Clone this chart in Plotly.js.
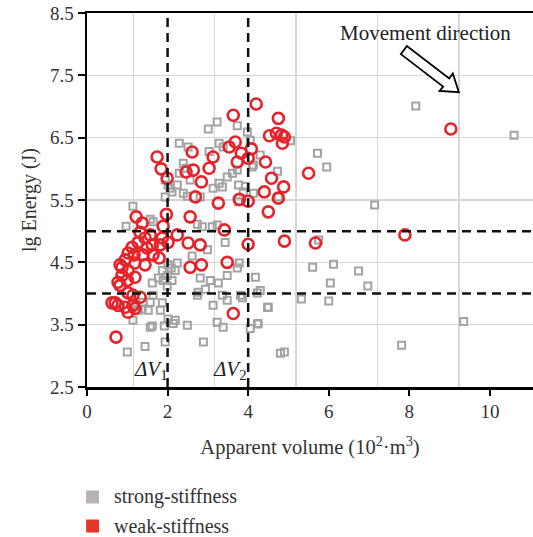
<!DOCTYPE html>
<html>
<head>
<meta charset="utf-8">
<script src="https://cdn.plot.ly/plotly-3.0.1.min.js"></script>
<style>html,body{margin:0;padding:0;background:#fff;}#chart{width:533px;height:537px;}</style>
</head>
<body>
<div id="chart"></div>
<script>
// strong-stiffness (grey open squares)
const strongX = [3.23,3.01,3.73,3.98,2.29,2.51,3.03,3.28,3.38,2.39,2.46,2.29,1.94,2.06,1.94,2.24,2.56,3.48,3.28,3.13,3.73,3.93,3.88,4.13,4.13,2.49,2.81,1.14,1.57,0.97,2.74,3.23,3.43,4.05,2.01,2.11,3.36,3.61,3.76,3.76,2.39,4.30,2.86,3.11,2.99,2.61,2.81,3.06,3.26,3.73,3.48,2.74,3.36,3.81,4.23,3.13,1.57,1.87,1.82,2.49,3.23,3.38,4.05,4.25,1.57,1.94,2.89,2.24,1.62,1.99,1.64,1.39,1.37,2.94,2.76,3.78,4.18,4.30,4.50,3.86,3.48,2.14,1.14,1.44,1.00,2.01,1.19,1.27,1.52,2.19,1.62,1.92,8.16,10.60,5.05,5.72,5.95,4.73,7.14,4.75,5.75,5.60,6.12,6.74,6.04,6.97,5.32,6.00,4.48,4.23,9.35,7.81,4.80,4.90,4.10,1.87,1.99,2.09,1.89,1.77,2.11,2.19,2.01,1.64];
const strongY = [6.75,6.64,6.69,6.59,6.41,6.35,6.28,6.41,6.35,6.09,6.01,5.93,5.82,5.69,5.55,5.74,5.82,5.87,5.77,5.69,5.98,5.72,5.63,6.06,5.61,5.56,5.55,5.40,5.19,5.08,5.11,5.10,4.82,6.46,5.74,5.63,5.71,5.93,5.74,5.47,5.61,6.22,5.07,5.07,4.70,4.60,4.25,4.21,4.17,4.41,4.29,3.97,3.97,3.97,4.01,3.81,3.86,3.85,3.73,3.49,3.54,3.46,3.44,3.52,3.46,3.22,3.22,4.49,4.17,4.12,3.97,3.86,3.75,4.07,4.02,4.49,4.26,4.05,3.78,3.93,3.89,3.52,3.57,3.15,3.06,3.59,3.85,3.73,3.73,3.57,3.48,3.48,7.01,6.54,6.45,6.25,6.03,5.96,5.42,5.55,4.86,4.42,4.47,4.36,4.17,4.12,3.91,3.88,3.78,3.51,3.55,3.17,3.04,3.06,6.03,4.37,4.29,4.41,4.21,4.25,4.21,4.37,4.46,5.15];

// weak-stiffness (red open circles)
const weakX = [4.20,9.03,4.75,4.53,4.70,4.83,4.90,4.85,4.43,5.50,4.58,4.40,4.88,4.75,4.50,7.89,4.90,5.67,3.63,3.68,3.53,4.08,3.83,2.61,1.74,3.13,3.73,4.00,1.84,2.64,2.46,3.03,1.99,2.84,2.69,3.26,3.78,4.00,1.22,1.97,1.37,2.56,3.41,4.00,1.89,2.24,2.51,2.81,2.01,1.82,1.62,3.48,2.56,2.84,1.79,0.82,0.70,1.02,1.19,3.63,0.72,1.44,1.27,1.12,1.02,1.17,1.39,1.49,1.64,1.44,1.19,0.95,0.87,1.02,0.87,0.77,0.82,1.00,1.19,1.14,0.62,0.77,0.95,1.14,1.32,1.02,1.87,1.57,1.32];
const weakY = [7.04,6.64,6.81,6.53,6.57,6.54,6.51,6.41,6.11,5.93,5.85,5.63,5.71,5.53,5.31,4.94,4.84,4.81,6.86,6.43,6.35,6.32,6.25,6.27,6.19,6.19,6.11,6.17,6.00,5.98,5.95,6.01,5.85,5.79,5.55,5.45,5.51,5.48,5.23,5.27,5.13,5.23,5.02,4.79,5.08,4.94,4.81,4.78,4.82,4.78,4.78,4.50,4.42,4.46,4.57,4.46,3.85,4.01,3.76,3.68,3.30,4.89,4.82,4.74,4.65,4.62,4.62,4.73,4.62,4.46,4.49,4.54,4.42,4.37,4.29,4.18,4.13,4.21,4.26,3.97,3.85,3.81,3.78,3.81,3.94,3.70,4.89,4.94,4.98];

const seriesNames = ['strong-stiffness', 'weak-stiffness'];
const legendColors = ['#b7b2b3', '#e8352a'];
const xTicks = [0, 2, 4, 6, 8, 10];
const yTicks = [2.5, 3.5, 4.5, 5.5, 6.5, 7.5, 8.5];
const boundaryX = [2, 4];
const boundaryY = [4, 5];

const FONT = 'Liberation Serif, Times New Roman, serif';
const GREY = '#a3a3a3', RED = '#e5232a';

const traces = [
  {x: strongX, y: strongY, type: 'scatter', mode: 'markers', name: seriesNames[0], showlegend: false,
   marker: {symbol: 'square-open', size: 7, color: GREY, line: {width: 2, color: GREY}}},
  {x: weakX, y: weakY, type: 'scatter', mode: 'markers', name: seriesNames[1], showlegend: false,
   marker: {symbol: 'circle-open', size: 11, color: RED, line: {width: 2.6, color: RED}}}
];

const dash = {color: '#111', width: 2.5, dash: '9px,6px'};
const shapes = [];
boundaryX.forEach(v => shapes.push({type: 'line', xref: 'x', yref: 'paper', x0: v, x1: v, y0: 0, y1: 1, line: dash, layer: 'above'}));
boundaryY.forEach(v => shapes.push({type: 'line', xref: 'paper', yref: 'y', x0: 0, x1: 1, y0: v, y1: v, line: dash, layer: 'above'}));
shapes.push({type: 'path', xref: 'x', yref: 'y',
  path: 'M 7.79,7.84 L 8.84,7.32 L 8.75,7.25 L 9.23,7.23 L 9.08,7.53 L 8.99,7.45 L 7.94,7.97 Z',
  line: {color: '#000', width: 1.8}, fillcolor: '#fff', layer: 'above'});

// legend drawn below the plot (paper coordinates)
const legendRowY = [-0.2941, -0.3717];
const annotations = [
  {x: 8.39, y: 8.18, xref: 'x', yref: 'y', text: 'Movement direction', showarrow: false, font: {family: FONT, size: 21, color: '#222'}},
  {x: 1.58, y: 2.78, xref: 'x', yref: 'y', text: '<i>ΔV</i><sub>1</sub>', showarrow: false, font: {family: FONT, size: 21, color: '#222'}},
  {x: 3.55, y: 2.78, xref: 'x', yref: 'y', text: '<i>ΔV</i><sub>2</sub>', showarrow: false, font: {family: FONT, size: 21, color: '#222'}}
];
seriesNames.forEach((name, i) => {
  shapes.push({type: 'rect', xref: 'paper', yref: 'paper', x0: -0.002, x1: 0.027,
    y0: legendRowY[i] - 0.0174, y1: legendRowY[i] + 0.0174, fillcolor: legendColors[i], line: {width: 0}});
  annotations.push({x: 0.056, y: legendRowY[i], xref: 'paper', yref: 'paper', xanchor: 'left', yanchor: 'middle',
    text: name, showarrow: false, font: {family: FONT, size: 20, color: '#333'}});
});

const layout = {
  width: 533, height: 537,
  margin: {l: 87, r: 0, t: 13, b: 150},
  paper_bgcolor: '#fff', plot_bgcolor: '#fff',
  font: {family: FONT, color: '#333', size: 19},
  showlegend: false,
  xaxis: {
    range: [0, 11.07], tickvals: xTicks, ticktext: xTicks.map(String),
    showgrid: false, zeroline: false,
    minor: {tick0: 1.15, dtick: 2.02, showgrid: true, gridcolor: '#d6d6d6', gridwidth: 1.5, ticks: ''},
    showline: true, linecolor: '#000', linewidth: 2.5, mirror: true,
    ticks: 'outside', ticklen: 6, tickwidth: 2, tickcolor: '#000',
    tickfont: {family: FONT, size: 19, color: '#333'},
    title: {text: 'Apparent volume (10<sup>2</sup>·m<sup>3</sup>)', font: {family: FONT, size: 20.5, color: '#333'}, standoff: 19}
  },
  yaxis: {
    range: [2.5, 8.5], tickvals: yTicks, ticktext: yTicks.map(v => v.toFixed(1)),
    showgrid: true, gridcolor: '#d6d6d6', gridwidth: 1.5, zeroline: false,
    showline: true, linecolor: '#000', linewidth: 2.5,
    ticks: 'outside', ticklen: 7, tickwidth: 2, tickcolor: '#000',
    tickfont: {family: FONT, size: 19, color: '#333'},
    title: {text: 'lg Energy (J)', font: {family: FONT, size: 20, color: '#333'}, standoff: 8}
  },
  shapes: shapes,
  annotations: annotations
};

Plotly.newPlot('chart', traces, layout, {displayModeBar: false, staticPlot: true});
</script>
</body>
</html>
